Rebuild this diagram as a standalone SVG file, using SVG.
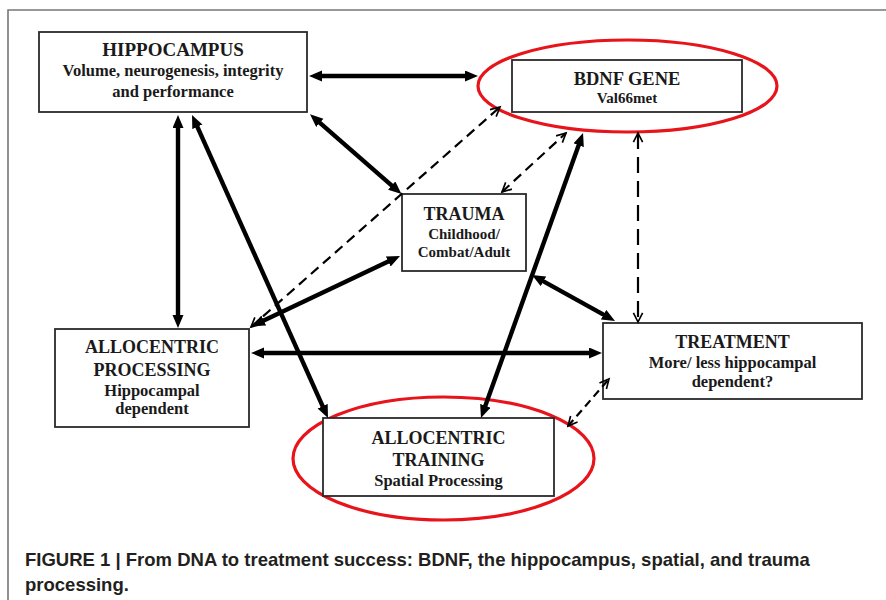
<svg xmlns="http://www.w3.org/2000/svg" width="886" height="600" viewBox="0 0 886 600">
<style>
.box{fill:#fff;stroke:#2a2a2a;stroke-width:1.8}
.oval{fill:none;stroke:#e8141b;stroke-width:3.2}
.t{font-family:"Liberation Serif","Times New Roman",serif;font-weight:bold;fill:#1a1a1a;text-anchor:middle}
.h{font-size:18.5px}
.s{font-size:16.5px}
.xs{font-size:15px}
.thick{stroke:#000;stroke-width:4.4;fill:none;marker-start:url(#fh);marker-end:url(#fh)}
.dash{stroke:#000;stroke-width:2.2;fill:none;stroke-dasharray:10 6;marker-start:url(#vh);marker-end:url(#vh)}
.cap{font-family:"Liberation Sans",Arial,sans-serif;font-weight:bold;font-size:18.5px;fill:#231f20}
</style>
<defs>
<marker id="fh" markerUnits="userSpaceOnUse" markerWidth="14" markerHeight="12" refX="4" refY="5.5" orient="auto-start-reverse" viewBox="0 0 14 12">
<path d="M0,0 L13,5.5 L0,11 z" fill="#000"/>
</marker>
<marker id="vh" markerUnits="userSpaceOnUse" markerWidth="12" markerHeight="12" refX="10" refY="5" orient="auto-start-reverse" viewBox="-1 -1 13 12" overflow="visible">
<path d="M0,0 L10,5 L0,10" fill="none" stroke="#000" stroke-width="1.8"/>
</marker>
</defs>
<rect width="886" height="600" fill="#fff"/>
<path d="M8,600 V10 H886" fill="none" stroke="#777" stroke-width="1.6"/>

<g id="hippocampus">
<rect class="box" x="39" y="32" width="268" height="80"/>
<text class="t h" x="173" y="56" style="font-size:19px">HIPPOCAMPUS</text>
<text class="t s" x="173" y="76">Volume, neurogenesis, integrity</text>
<text class="t s" x="173" y="97">and performance</text>
</g>

<g id="bdnf">
<ellipse class="oval" cx="627.5" cy="86" rx="149.5" ry="46"/>
<rect class="box" x="512" y="60" width="230" height="52"/>
<text class="t h" x="627" y="85">BDNF GENE</text>
<text class="t xs" x="627" y="103">Val66met</text>
</g>

<g id="trauma">
<rect class="box" x="402" y="194" width="124" height="77"/>
<text class="t h" x="464" y="220" style="font-size:18px">TRAUMA</text>
<text class="t xs" x="464" y="239">Childhood/</text>
<text class="t xs" x="464" y="257">Combat/Adult</text>
</g>

<g id="allocentric-processing">
<rect class="box" x="55" y="329" width="194" height="98"/>
<text class="t h" x="152" y="353" style="font-size:18px">ALLOCENTRIC</text>
<text class="t h" x="152" y="376" style="font-size:18px">PROCESSING</text>
<text class="t s" x="152" y="396">Hippocampal</text>
<text class="t s" x="152" y="414">dependent</text>
</g>

<g id="allocentric-training">
<ellipse class="oval" cx="443.5" cy="458.5" rx="150.5" ry="61.5"/>
<rect class="box" x="323" y="418" width="231" height="78"/>
<text class="t h" x="438.5" y="444" style="font-size:18px">ALLOCENTRIC</text>
<text class="t h" x="438.5" y="466" style="font-size:18px">TRAINING</text>
<text class="t s" x="438.5" y="486">Spatial Processing</text>
</g>

<g id="treatment">
<rect class="box" x="603" y="323" width="259" height="76"/>
<text class="t h" x="732.5" y="348" style="font-size:18px">TREATMENT</text>
<text class="t s" x="732.5" y="368">More/ less hippocampal</text>
<text class="t s" x="732.5" y="387">dependent?</text>
</g>

<g id="connectors">
<line class="thick" x1="318" y1="76" x2="469" y2="76"/>
<line class="thick" x1="316.8" y1="120.2" x2="394.7" y2="188.2"/>
<line class="thick" x1="178" y1="124" x2="178" y2="319"/>
<line class="thick" x1="195.7" y1="123.2" x2="324.3" y2="409.8"/>
<line class="thick" x1="391.9" y1="259.8" x2="260.1" y2="322.2"/>
<line class="thick" x1="580" y1="141.5" x2="484" y2="409.5"/>
<line class="thick" x1="539.9" y1="279.4" x2="607.1" y2="316.6"/>
<line class="thick" x1="260" y1="353" x2="593" y2="353"/>
<line class="dash" x1="251" y1="327" x2="500" y2="107"/>
<line class="dash" x1="502" y1="192" x2="566" y2="133"/>
<line class="dash" x1="638" y1="133" x2="638" y2="322" style="stroke-dasharray:16 8"/>
<line class="dash" x1="568" y1="426" x2="609" y2="379" style="stroke-dasharray:8 5"/>
</g>

<g id="caption">
<text class="cap" x="25" y="566">FIGURE 1 | From DNA to treatment success: BDNF, the hippocampus, spatial, and trauma</text>
<text class="cap" x="25" y="591">processing.</text>
</g>
</svg>
